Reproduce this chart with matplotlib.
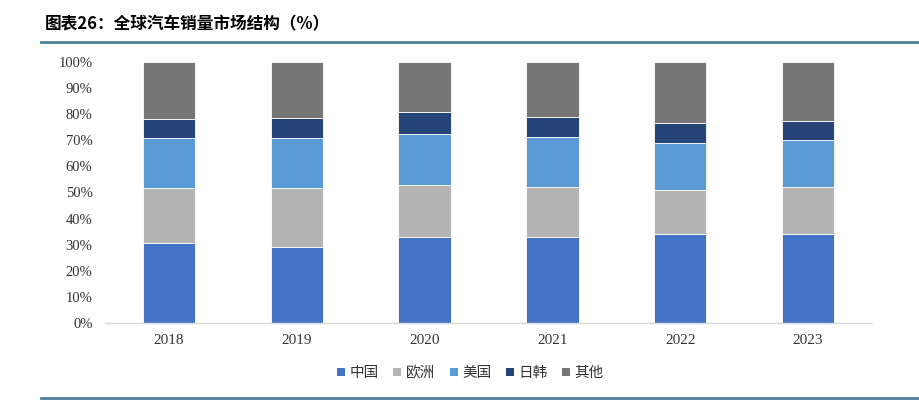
import numpy as np
import matplotlib
matplotlib.use("Agg")
import matplotlib.pyplot as plt
from matplotlib.lines import Line2D
from matplotlib.patches import Patch

plt.rcParams['font.family'] = ['Noto Sans CJK SC', 'DejaVu Sans']

# données (%)
annees = ["2018", "2019", "2020", "2021", "2022", "2023"]
regions = ["中国", "欧洲", "美国", "日韩", "其他"]
chine = [30.5, 29.2, 32.9, 32.9, 34.0, 34.2]
europe = [21.1, 22.4, 20.0, 19.2, 17.1, 17.9]
usa = [19.3, 19.3, 19.5, 19.2, 18.0, 18.0]
japon_coree = [7.4, 7.8, 8.5, 7.8, 7.4, 7.3]
autres = [21.7, 21.3, 19.1, 20.9, 23.5, 22.6]
y_ticks = [0, 10, 20, 30, 40, 50, 60, 70, 80, 90, 100]

couleurs = ["#4472C4", "#B4B4B4", "#5B9BD5", "#264478", "#767676"]
series = [chine, europe, usa, japon_coree, autres]

fig = plt.figure(figsize=(9.19, 4.07), dpi=100)
ax = fig.add_axes([0.1143, 0.2064, 0.8345, 0.6413])

x = np.arange(len(annees))
bas = np.zeros(len(annees))
for vals, c in zip(series, couleurs):
    v = np.array(vals)
    ax.bar(x, v, width=0.41, bottom=bas, color=c, edgecolor="white", linewidth=0.6)
    bas += v

ax.set_xlim(-0.5, len(annees) - 0.5)
ax.set_ylim(0, 100)
ax.set_yticks(y_ticks)
ax.set_yticklabels([f"{t}%" for t in y_ticks], family="Liberation Serif", fontsize=10.5, color="#333333")
ax.set_xticks(x)
ax.set_xticklabels(annees, family="Liberation Serif", fontsize=11, color="#333333")
ax.tick_params(axis="both", length=0)
ax.tick_params(axis="y", pad=9)
ax.tick_params(axis="x", pad=8)
for s in ["top", "right", "left"]:
    ax.spines[s].set_visible(False)
ax.spines["bottom"].set_color("#D9D9D9")
ax.spines["bottom"].set_linewidth(1.0)

poignees = [Patch(facecolor=c, edgecolor="none") for c in couleurs]
fig.legend(poignees, regions, loc="center", bbox_to_anchor=(0.512, 0.083), ncol=5,
           frameon=False, fontsize=10.5, handlelength=0.55, handleheight=0.55,
           handletextpad=0.3, columnspacing=1.0, labelcolor="#333333")

# titre et lignes de séparation
fig.text(0.049, 0.94, "图表26：全球汽车销量市场结构（%）", fontsize=12, fontweight="bold",
         ha="left", va="center", color="#000000")
fig.add_artist(Line2D([0.045, 1.0], [0.897, 0.897], color="#4E7F9A", linewidth=2.0))
fig.add_artist(Line2D([0.045, 1.0], [0.022, 0.022], color="#4E7F9A", linewidth=2.0))

fig.savefig("out.png", dpi=100)
